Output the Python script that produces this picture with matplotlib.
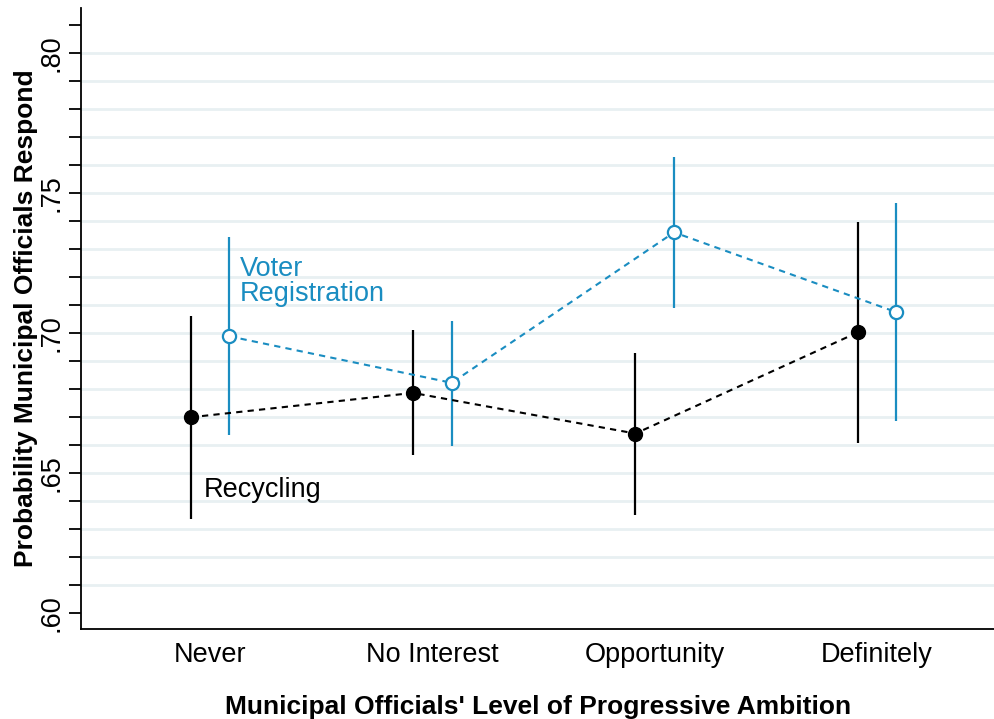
import numpy as np
import matplotlib.pyplot as plt
import matplotlib
matplotlib.rcParams['font.family'] = ['Liberation Sans', 'DejaVu Sans']

# ===== data =====
CATEGORIES = ["Never", "No Interest", "Opportunity", "Definitely"]

recycle_mean = [0.6699, 0.6786, 0.6641, 0.7002]
recycle_lo   = [0.6337, 0.6563, 0.6352, 0.6608]
recycle_hi   = [0.7062, 0.7010, 0.6927, 0.7395]

voter_mean = [0.6988, 0.6822, 0.7359, 0.7074]
voter_lo   = [0.6635, 0.6596, 0.7090, 0.6685]
voter_hi   = [0.7343, 0.7042, 0.7627, 0.7464]

Y_LABELS = [".60", ".65", ".70", ".75", ".80"]

BLUE = "#1a8dc1"
GRID = "#e8f0f2"
OFF = 0.087
FS = 19.5

x = np.arange(1, len(CATEGORIES) + 1)

fig = plt.figure(figsize=(9.95, 7.19), dpi=100)
ax = fig.add_axes([0.0814, 0.125, 0.9186, 0.864])

# grid lines
for g in np.arange(0.61, 0.8001, 0.01):
    ax.axhline(g, color=GRID, lw=2, zorder=0)

# recycling
xr = x - OFF
ax.vlines(xr, recycle_lo, recycle_hi, color="black", lw=1.6, zorder=2)
ax.plot(xr, recycle_mean, ls=(0, (3, 2.5)), color="black", lw=1.5, zorder=3)
ax.plot(xr, recycle_mean, "o", color="black", ms=10, zorder=4)

# voter registration
xv = x + OFF
ax.vlines(xv, voter_lo, voter_hi, color=BLUE, lw=1.6, zorder=2)
ax.plot(xv, voter_mean, ls=(0, (3, 2.5)), color=BLUE, lw=1.5, zorder=3)
ax.plot(xv, voter_mean, "o", mfc="white", mec=BLUE, mew=1.6, ms=9.5, zorder=4)

ax.text(1.135, 0.7274, "Voter\nRegistration", color=BLUE, fontsize=FS,
        ha="left", va="top", linespacing=0.95)
ax.text(0.97, 0.644, "Recycling", color="black", fontsize=FS,
        ha="left", va="center")

ax.set_xlim(0.42, 4.53)
ax.set_ylim(0.5943, 0.816)

ax.set_xticks(x)
ax.set_xticklabels(CATEGORIES, fontsize=FS)
ax.tick_params(axis="x", length=0, pad=9)

ax.set_yticks([0.60, 0.65, 0.70, 0.75, 0.80])
ax.set_yticklabels(Y_LABELS, rotation=90, va="center", fontsize=FS)
ax.set_yticks(np.arange(0.60, 0.8101, 0.01), minor=True)
ax.tick_params(axis="y", which="both", length=9, width=1.3, direction="out")
ax.tick_params(axis="y", which="major", pad=3)

for s in ["top", "right"]:
    ax.spines[s].set_visible(False)
ax.spines["left"].set_linewidth(1.3)
ax.spines["bottom"].set_linewidth(1.3)

ax.set_xlabel("Municipal Officials' Level of Progressive Ambition",
              fontsize=19, fontweight="bold", labelpad=20)
ax.set_ylabel("Probability Municipal Officials Respond",
              fontsize=19, fontweight="bold", labelpad=0)

plt.savefig("out.png", dpi=100)
